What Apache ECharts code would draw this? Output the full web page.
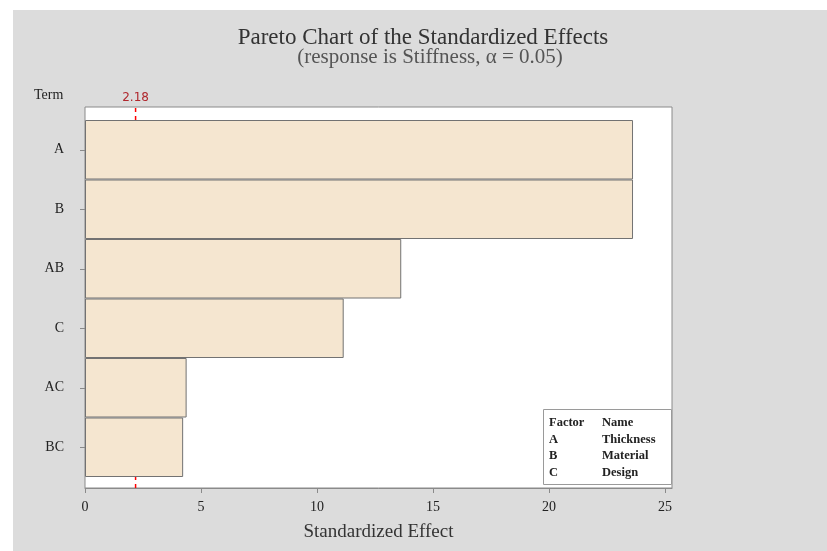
<!DOCTYPE html>
<html>
<head>
<meta charset="utf-8">
<script src="https://cdn.jsdelivr.net/npm/echarts@6/dist/echarts.min.js"></script>
<style>
  html, body { margin: 0; padding: 0; background: #fff; }
  #chart { width: 827px; height: 551px; }
</style>
</head>
<body>
<div id="chart"></div>
<script>
const terms = ['A', 'B', 'AB', 'C', 'AC', 'BC'];
const effects = [23.62, 23.62, 13.63, 11.15, 4.38, 4.23];
const xTicks = [0, 5, 10, 15, 20, 25];
const refValue = 2.18;
const factors = ['A', 'B', 'C'];
const factorNames = ['Thickness', 'Material', 'Design'];

const serif = '"Liberation Serif", "Times New Roman", serif';
const xMax = 25.3;

const legendText = ['{h|Factor}{n|Name}']
  .concat(factors.map((f, i) => `{h|${f}}{n|${factorNames[i]}}`))
  .join('\n');

const chart = echarts.init(document.getElementById('chart'));

chart.setOption({
  backgroundColor: '#dcdcdc',
  animation: false,
  title: [
    {
      text: 'Term',
      left: 29,
      top: 83,
      textStyle: { fontFamily: serif, fontSize: 14, fontWeight: 'normal', color: '#222' }
    },
    {
      text: legendText,
      left: 543,
      top: 407,
      padding: [8, 4, 5, 6],
      backgroundColor: '#fff',
      borderColor: '#9a9a9a',
      borderWidth: 1,
      textStyle: {
        rich: {
          h: { fontFamily: serif, fontSize: 12.5, fontWeight: 'bold', color: '#222', width: 53, lineHeight: 16.5 },
          n: { fontFamily: serif, fontSize: 12.5, fontWeight: 'bold', color: '#222', width: 66, lineHeight: 16.5 }
        }
      }
    }
  ],
  graphic: [
    { type: 'rect', shape: { x: 0, y: 0, width: 827, height: 10 }, style: { fill: '#fff' }, silent: true },
    { type: 'rect', shape: { x: 0, y: 0, width: 13, height: 551 }, style: { fill: '#fff' }, silent: true },
    {
      type: 'text', x: 423, y: 26,
      style: { text: 'Pareto Chart of the Standardized Effects', font: '23px ' + serif, fill: '#333', align: 'center' }
    },
    {
      type: 'text', x: 430, y: 47,
      style: { text: '(response is Stiffness, α = 0.05)', font: '21px ' + serif, fill: '#555', align: 'center' }
    }
  ],
  grid: [
    {
      left: 85, right: 155, top: 107, bottom: 63,
      show: true, backgroundColor: '#fff', borderColor: '#8a8a8a', borderWidth: 1
    },
    {
      left: 85, right: 155, top: 120, bottom: 74
    }
  ],
  xAxis: [
    {
      type: 'value',
      gridIndex: 0,
      min: 0,
      max: xMax,
      splitLine: { show: false },
      axisLine: { show: true, lineStyle: { color: '#8a8a8a' } },
      axisTick: { show: true, length: 5, customValues: xTicks, lineStyle: { color: '#8a8a8a' } },
      axisLabel: { customValues: xTicks, margin: 12, fontFamily: serif, fontSize: 14, color: '#222' },
      name: 'Standardized Effect',
      nameLocation: 'middle',
      nameGap: 35,
      nameTextStyle: { fontFamily: serif, fontSize: 19, color: '#333' }
    },
    {
      type: 'value',
      gridIndex: 1,
      min: 0,
      max: xMax,
      show: false
    }
  ],
  yAxis: [
    {
      type: 'value',
      gridIndex: 0,
      min: 0,
      max: 1,
      show: false
    },
    {
      type: 'category',
      gridIndex: 1,
      data: terms,
      inverse: true,
      axisLine: { show: false },
      axisTick: { show: true, alignWithLabel: true, length: 5, lineStyle: { color: '#8a8a8a' } },
      axisLabel: { margin: 21, fontFamily: serif, fontSize: 14, color: '#222' },
      splitLine: { show: false }
    }
  ],
  series: [
    {
      // reference line at the critical value
      type: 'line',
      xAxisIndex: 0,
      yAxisIndex: 0,
      data: [[refValue, 0], [refValue, 1]],
      showSymbol: false,
      silent: true,
      z: 1,
      color: '#ff0000',
      lineStyle: { color: '#ff0000', type: [4, 4], width: 1.5 },
      markLine: {
        silent: true,
        z: 1,
        symbol: 'none',
        lineStyle: { color: 'rgba(0,0,0,0)' },
        label: {
          position: 'end',
          formatter: String(refValue),
          color: '#b0272d',
          fontFamily: '"DejaVu Sans", Arial, sans-serif',
          fontSize: 12,
          distance: 3
        },
        data: [{ xAxis: refValue }]
      }
    },
    {
      type: 'bar',
      xAxisIndex: 1,
      yAxisIndex: 1,
      data: effects,
      barCategoryGap: 0,
      z: 3,
      itemStyle: { color: '#f5e6d0', borderColor: '#727272', borderWidth: 1 }
    }
  ]
});
</script>
</body>
</html>
